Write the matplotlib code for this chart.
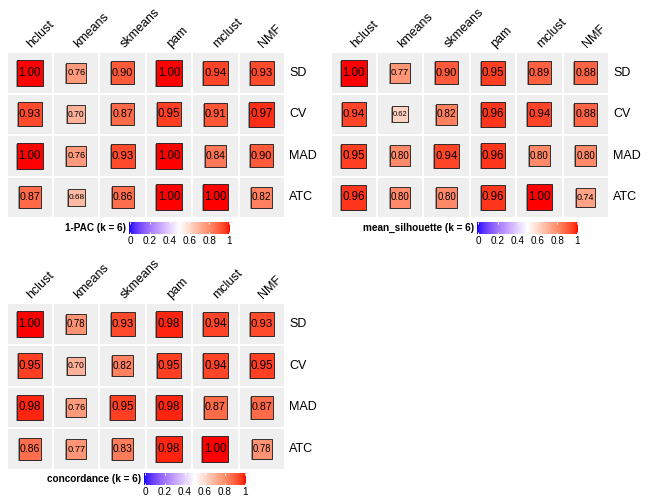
import numpy as np
import matplotlib
matplotlib.use("Agg")
import matplotlib.pyplot as plt
from matplotlib.patches import Rectangle

plt.rcParams['font.family'] = ['Liberation Sans', 'DejaVu Sans']

methods = ["hclust", "kmeans", "skmeans", "pam", "mclust", "NMF"]
top_methods = ["SD", "CV", "MAD", "ATC"]

pac = [[1.00, 0.76, 0.90, 1.00, 0.94, 0.93],
       [0.93, 0.70, 0.87, 0.95, 0.91, 0.97],
       [1.00, 0.76, 0.93, 1.00, 0.84, 0.90],
       [0.87, 0.68, 0.86, 1.00, 1.00, 0.82]]
silhouette = [[1.00, 0.77, 0.90, 0.95, 0.89, 0.88],
              [0.94, 0.62, 0.82, 0.96, 0.94, 0.88],
              [0.95, 0.80, 0.94, 0.96, 0.80, 0.80],
              [0.96, 0.80, 0.80, 0.96, 1.00, 0.74]]
concordance = [[1.00, 0.78, 0.93, 0.98, 0.94, 0.93],
               [0.95, 0.70, 0.82, 0.95, 0.94, 0.95],
               [0.98, 0.76, 0.95, 0.98, 0.87, 0.87],
               [0.86, 0.77, 0.83, 0.98, 1.00, 0.78]]
titles = ["1-PAC (k = 6)", "mean_silhouette (k = 6)", "concordance (k = 6)"]
legend_ticks = [0, 0.2, 0.4, 0.6, 0.8, 1]
legend_tick_labels = ["0", "0.2", "0.4", "0.6", "0.8", "1"]

# ---- LAB colour ramp (blue - white - red) ----
M_RGB2XYZ = np.array([[0.4124, 0.3576, 0.1805], [0.2126, 0.7152, 0.0722], [0.0193, 0.1192, 0.9505]])
WP = np.array([0.95047, 1.0, 1.08883])

def srgb_to_lab(rgb):
    rgb = np.asarray(rgb, float)
    lin = np.where(rgb <= 0.04045, rgb / 12.92, ((rgb + 0.055) / 1.055) ** 2.4)
    t = (lin @ M_RGB2XYZ.T) / WP
    f = np.where(t > (6/29)**3, np.cbrt(t), t / (3*(6/29)**2) + 4/29)
    return np.stack([116*f[..., 1] - 16, 500*(f[..., 0] - f[..., 1]), 200*(f[..., 1] - f[..., 2])], -1)

def lab_to_srgb(lab):
    lab = np.asarray(lab, float)
    fy = (lab[..., 0] + 16) / 116
    f = np.stack([fy + lab[..., 1] / 500, fy, fy - lab[..., 2] / 200], -1)
    d = 6/29
    t = np.where(f > d, f**3, 3*d*d*(f - 4/29))
    lin = np.clip((t * WP) @ np.linalg.inv(M_RGB2XYZ).T, 0, 1)
    rgb = np.where(lin <= 0.0031308, 12.92*lin, 1.055*lin**(1/2.4) - 0.055)
    return np.clip(rgb, 0, 1)

brk = np.array([0.0, 0.5, 1.0])
brk_lab = srgb_to_lab(np.array([[0, 0, 1], [1, 1, 1], [1, 0, 0]], float))

def col_fun(v):
    v = np.atleast_1d(np.asarray(v, float))
    lab = np.stack([np.interp(v, brk, brk_lab[:, k]) for k in range(3)], -1)
    return lab_to_srgb(lab)

W, H = 648, 504
fig = plt.figure(figsize=(W/72, H/72), dpi=72)

def add_px_axes(x0, y0, x1, y1):
    return fig.add_axes([x0/W, 1 - y1/H, (x1-x0)/W, (y1-y0)/H])

panels = [
    (pac, (6.7, 52, 285, 218), (129, 222, 230, 234)),
    (silhouette, (330.5, 52, 609, 218), (477, 222, 578, 234)),
    (concordance, (6.7, 303, 285, 470), (144, 473, 246, 485)),
]

for (mat, (x0, y0, x1, y1), (lx0, ly0, lx1, ly1)), title in zip(panels, titles):
    m = np.array(mat)
    nr, nc = m.shape
    ax = add_px_axes(x0, y0, x1, y1)
    ax.set_xlim(0, nc)
    ax.set_ylim(nr, 0)
    ax.axis('off')
    cw = (x1 - x0) / nc   # px per x unit
    ch = (y1 - y0) / nr   # px per y unit
    for i in range(nr):
        for j in range(nc):
            v = m[i, j]
            ax.add_patch(Rectangle((j, i), 1, 1, facecolor='#EFEFEF', edgecolor='white', lw=2))
            s = 0.62 * ch * v
            sx, sy = s / cw, s / ch
            # soft shadow
            ax.add_patch(Rectangle((j + 0.5 - sx/2 - 1.0/cw, i + 0.5 - sy/2 + 1.0/ch), sx, sy,
                                   facecolor='#9a9a9a', edgecolor='none'))
            ax.add_patch(Rectangle((j + 0.5 - sx/2, i + 0.5 - sy/2), sx, sy,
                                   facecolor=col_fun(v)[0], edgecolor='#222222', lw=0.9))
            fs = min(11.5, 0.92 * s / 1.946)
            ax.text(j + 0.5, i + 0.5, f"{v:.2f}", ha='center', va='center', fontsize=fs, color='black')
    for j, name in enumerate(methods):
        ax.text(j + 0.5 - 0.5/cw, -6/ch, name, rotation=45, rotation_mode='anchor',
                ha='left', va='center', fontsize=12.5, clip_on=False)
    for i, name in enumerate(top_methods):
        ax.text(nc + 4/cw, i + 0.5, name, ha='left', va='center', fontsize=12.5, clip_on=False)

    # legend
    lax = add_px_axes(lx0, ly0, lx1, ly1)
    grad = np.linspace(0, 1, 256)
    lax.imshow(col_fun(grad)[None, :, :], aspect='auto', extent=(-0.01, 1.01, 0, 1))
    lax.set_xlim(-0.01, 1.01)
    lax.set_ylim(0, 1)
    lax.set_yticks([])
    lax.set_xticks(legend_ticks)
    lax.set_xticklabels(legend_tick_labels, fontsize=10)
    lax.tick_params(axis='x', direction='in', color='white', length=2, width=1,
                    top=True, bottom=True, pad=2)
    for sp in lax.spines.values():
        sp.set_visible(False)
    lax.text(-3/(lx1-lx0), 0.5, title, transform=lax.transAxes, ha='right', va='center',
             fontsize=10, fontweight='bold')

fig.savefig("out.png", dpi=72)
